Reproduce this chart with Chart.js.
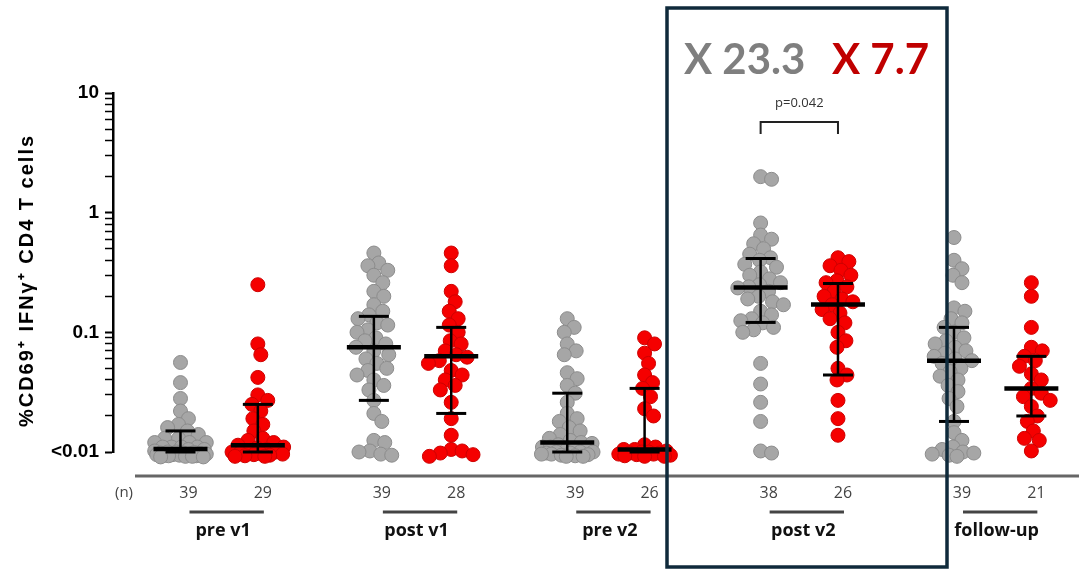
<!DOCTYPE html>
<html>
<head>
<meta charset="utf-8">
<script src="https://cdn.jsdelivr.net/npm/chart.js@4.4.1/dist/chart.umd.min.js"></script>
<style>
  html, body { margin: 0; padding: 0; background: #fff; }
  #chart { display: block; }
</style>
</head>
<body>
<canvas id="chart" width="1079" height="571"></canvas>
<script>
// groups along the x axis
const groups = ['pre v1', 'post v1', 'pre v2', 'post v2', 'follow-up'];

// % CD69+ IFNy+ CD4 T cells, one array per group
const greyValues = [
  [0.056, 0.038, 0.028, 0.022, 0.019, 0.017, 0.016, 0.015, 0.014, 0.013, 0.013, 0.012, 0.012, 0.012, 0.011, 0.011, 0.011, 0.011, 0.0105, 0.0105,
   0.0102, 0.01, 0.01, 0.0099, 0.0098, 0.0098, 0.0097, 0.0096, 0.0096, 0.0095, 0.0095, 0.0094, 0.0094, 0.0093, 0.0093, 0.0092, 0.0092, 0.0091, 0.0091],
  [0.46, 0.38, 0.36, 0.33, 0.3, 0.26, 0.22, 0.2, 0.17, 0.15, 0.14, 0.13, 0.12, 0.115, 0.105, 0.1, 0.09, 0.085, 0.08, 0.075,
   0.07, 0.065, 0.06, 0.055, 0.05, 0.048, 0.044, 0.04, 0.036, 0.033, 0.027, 0.021, 0.018, 0.0125, 0.012, 0.0102, 0.01, 0.0096, 0.0094],
  [0.13, 0.11, 0.1, 0.08, 0.07, 0.065, 0.046, 0.041, 0.036, 0.031, 0.026, 0.021, 0.019, 0.018, 0.016, 0.015, 0.014, 0.013, 0.0125, 0.012,
   0.0118, 0.0115, 0.011, 0.011, 0.0105, 0.0105, 0.0102, 0.01, 0.01, 0.01, 0.0098, 0.0098, 0.0096, 0.0096, 0.0095, 0.0094, 0.0093, 0.0092, 0.0092],
  [2.0, 1.9, 0.82, 0.65, 0.6, 0.55, 0.5, 0.45, 0.42, 0.4, 0.37, 0.35, 0.32, 0.3, 0.28, 0.26, 0.25, 0.24, 0.235,
   0.22, 0.2, 0.19, 0.18, 0.17, 0.15, 0.14, 0.13, 0.125, 0.12, 0.11, 0.105, 0.1, 0.055, 0.037, 0.026, 0.018, 0.0102, 0.0098],
  [0.62, 0.4, 0.34, 0.3, 0.26, 0.16, 0.15, 0.13, 0.12, 0.11, 0.1, 0.09, 0.085, 0.08, 0.075, 0.07, 0.067, 0.063, 0.06, 0.058,
   0.055, 0.05, 0.047, 0.043, 0.04, 0.036, 0.032, 0.028, 0.024, 0.018, 0.0145, 0.0125, 0.011, 0.0105, 0.01, 0.0098, 0.0096, 0.0094, 0.0092]
];
const redValues = [
  [0.25, 0.08, 0.065, 0.042, 0.03, 0.027, 0.025, 0.022, 0.019, 0.017, 0.015, 0.013, 0.0125, 0.012, 0.0114,
   0.011, 0.0108, 0.0105, 0.0102, 0.01, 0.01, 0.0098, 0.0097, 0.0096, 0.0095, 0.0094, 0.0093, 0.0092, 0.0092],
  [0.46, 0.36, 0.22, 0.18, 0.15, 0.13, 0.115, 0.1, 0.085, 0.08, 0.07, 0.065, 0.062, 0.058, 0.055, 0.048, 0.044, 0.04,
   0.036, 0.033, 0.026, 0.019, 0.0138, 0.0105, 0.0102, 0.0098, 0.0095, 0.0092],
  [0.09, 0.08, 0.067, 0.055, 0.044, 0.038, 0.034, 0.029, 0.023, 0.02, 0.0115, 0.011, 0.0105,
   0.0105, 0.0102, 0.01, 0.01, 0.0098, 0.0098, 0.0096, 0.0096, 0.0095, 0.0094, 0.0093, 0.0092, 0.0092],
  [0.42, 0.39, 0.36, 0.33, 0.3, 0.27, 0.26, 0.24, 0.22, 0.2, 0.19, 0.18, 0.17,
   0.155, 0.145, 0.13, 0.12, 0.1, 0.085, 0.075, 0.05, 0.044, 0.04, 0.027, 0.019, 0.0138],
  [0.26, 0.2, 0.11, 0.075, 0.07, 0.063, 0.058, 0.052, 0.045, 0.04, 0.034,
   0.031, 0.029, 0.027, 0.024, 0.02, 0.018, 0.015, 0.013, 0.0125, 0.0102]
];

// median and interquartile range drawn over each column
const greyMedian = [0.0106, 0.075, 0.012, 0.237, 0.058];
const greyQ1     = [0.01, 0.027, 0.01, 0.121, 0.018];
const greyQ3     = [0.015, 0.136, 0.031, 0.414, 0.11];
const redMedian  = [0.0114, 0.063, 0.0105, 0.171, 0.034];
const redQ1      = [0.01, 0.021, 0.01, 0.044, 0.02];
const redQ3      = [0.025, 0.11, 0.034, 0.256, 0.063];

// y axis ticks and annotations
const majorTicks = [0.01, 0.1, 1, 10];
const yTitle = '%CD69\u207A IFN\u03B3\u207A CD4 T cells';
const foldChange = ['X 23.3', 'X 7.7'];
const pValue = 'p=0.042';

const GREY = 'rgb(166,166,166)', RED = 'rgb(245,0,0)';
const SHIFT = 0.2;          // half distance between the two columns of a group
const R = 7, GAP = 11, MAXW = 26;

// simple beeswarm: push points sideways until they stop piling up
function swarm(values, centre, xs, ys) {
  const unit = xs.getPixelForValue(1) - xs.getPixelForValue(0);
  const placed = [];
  return values.slice().sort((a, b) => b - a).map(v => {
    const py = ys.getPixelForValue(v);
    let best = 0, bestD = -1;
    for (let k = 0; k <= 2 * MAXW; k++) {
      const off = (k % 2 ? 1 : -1) * Math.ceil(k / 2);
      let d = Infinity;
      placed.forEach(p => { d = Math.min(d, Math.hypot(p.x - off, p.y - py)); });
      if (d >= GAP) { best = off; bestD = d; break; }
      if (d > bestD) { bestD = d; best = off; }
    }
    placed.push({ x: best, y: py });
    return { x: centre + best / unit, y: v };
  });
}

function line(ctx, x1, y1, x2, y2) {
  ctx.beginPath(); ctx.moveTo(x1, y1); ctx.lineTo(x2, y2); ctx.stroke();
}

const medianBars = {
  id: 'medianBars',
  afterDatasetsDraw(chart) {
    const { ctx, scales: { x, y } } = chart;
    ctx.save();
    ctx.strokeStyle = '#000';
    [[greyMedian, greyQ1, greyQ3, -SHIFT], [redMedian, redQ1, redQ3, SHIFT]].forEach(([med, q1, q3, shift]) => {
      med.forEach((m, i) => {
        const cx = x.getPixelForValue(i + shift);
        const ym = y.getPixelForValue(m), y1 = y.getPixelForValue(q1[i]), y3 = y.getPixelForValue(q3[i]);
        ctx.lineWidth = 2.5; line(ctx, cx, y3, cx, y1);
        ctx.lineWidth = 3; line(ctx, cx - 15, y3, cx + 15, y3); line(ctx, cx - 15, y1, cx + 15, y1);
        ctx.lineWidth = 4.5; line(ctx, cx - 27, ym, cx + 27, ym);
      });
    });
    ctx.restore();
  }
};

const annotations = {
  id: 'annotations',
  afterDraw(chart) {
    const { ctx, chartArea, scales: { x } } = chart;
    ctx.save();
    // y axis title, spaced out like the original
    ctx.save();
    ctx.translate(27, (chartArea.top + chartArea.bottom) / 2 + 8);
    ctx.rotate(-Math.PI / 2);
    ctx.font = 'bold 20px "Liberation Sans", Arial';
    ctx.letterSpacing = '2px';
    ctx.fillStyle = '#000'; ctx.textAlign = 'center'; ctx.textBaseline = 'middle';
    ctx.fillText(yTitle, 0, 0);
    ctx.restore();
    // base line
    ctx.strokeStyle = '#666'; ctx.lineWidth = 3;
    line(ctx, 135, 476, 1079, 476);
    // (n) row
    ctx.fillStyle = '#444'; ctx.font = '15px "Open Sans"'; ctx.textBaseline = 'middle';
    ctx.textAlign = 'center';
    ctx.fillText('(n)', 124, 493);
    groups.forEach((g, i) => {
      const gx = x.getPixelForValue(i - SHIFT), rx = x.getPixelForValue(i + SHIFT);
      ctx.fillStyle = '#444'; ctx.font = '16px "Open Sans"';
      ctx.fillText(String(greyValues[i].length), gx + 8, 493);
      ctx.fillText(String(redValues[i].length), rx + 5, 493);
      ctx.strokeStyle = '#444'; ctx.lineWidth = 3;
      line(ctx, gx + 9, 512, rx + 6, 512);
      ctx.fillStyle = '#111'; ctx.font = 'bold 18px "Open Sans"';
      ctx.fillText(g, (gx + rx) / 2 + 4, 531);
    });
    // highlight box
    ctx.strokeStyle = '#0f2a3b'; ctx.lineWidth = 3.5;
    ctx.strokeRect(667, 8, 280, 559);
    // fold change
    ctx.textAlign = 'left'; ctx.textBaseline = 'alphabetic';
    ctx.font = 'bold 42px Lato';
    ctx.fillStyle = '#7f7f7f'; ctx.fillText(foldChange[0], 684, 74);
    ctx.fillStyle = '#c00000'; ctx.fillText(foldChange[1], 832, 74);
    // p value bracket
    const b1 = x.getPixelForValue(3 - SHIFT), b2 = x.getPixelForValue(3 + SHIFT);
    ctx.strokeStyle = '#222'; ctx.lineWidth = 2;
    ctx.beginPath(); ctx.moveTo(b1, 134); ctx.lineTo(b1, 122); ctx.lineTo(b2, 122); ctx.lineTo(b2, 134); ctx.stroke();
    ctx.fillStyle = '#333'; ctx.font = '13px "Open Sans"'; ctx.textAlign = 'center'; ctx.textBaseline = 'middle';
    ctx.fillText(pValue, (b1 + b2) / 2, 103);
    ctx.restore();
  }
};

const chart = new Chart(document.getElementById('chart'), {
  type: 'scatter',
  data: {
    datasets: [
      { data: [], backgroundColor: GREY, borderColor: 'rgb(140,140,140)', borderWidth: 1, pointRadius: R, clip: false },
      { data: [], backgroundColor: RED, borderColor: 'rgb(205,0,0)', borderWidth: 1, pointRadius: R, clip: false }
    ]
  },
  options: {
    responsive: false,
    animation: false,
    layout: { padding: { top: 93, bottom: 119, left: 0, right: 0 } },
    plugins: { legend: { display: false }, tooltip: { enabled: false } },
    scales: {
      x: { type: 'linear', min: -0.549, max: 4.405, display: false },
      y: {
        type: 'logarithmic',
        min: 0.01,
        max: 10,
        afterFit: scale => { scale.width = 113; },
        afterBuildTicks: scale => {
          const t = [];
          for (let d = 0.01; d < 10; d *= 10) for (let m = 1; m < 10; m++) t.push({ value: +(d * m).toPrecision(3) });
          t.push({ value: 10 });
          scale.ticks = t;
        },
        border: { display: true, color: '#000', width: 2.5 },
        grid: { drawOnChartArea: false, color: '#000', tickLength: 8,
                tickWidth: ctx => majorTicks.includes(ctx.tick && ctx.tick.value) ? 2 : 1.5 },
        ticks: {
          autoSkip: false,
          color: '#000',
          font: { family: '"Liberation Sans", Arial', size: 19, weight: 'bold' },
          padding: 6,
          callback: v => majorTicks.includes(v) ? (v === 0.01 ? '<0.01' : String(v)) : ''
        },
        title: { display: false }
      }
    }
  },
  plugins: [medianBars, annotations]
});

// lay the dots out as a swarm once the scales are known
chart.data.datasets[0].data = greyValues.flatMap((vals, i) => swarm(vals, i - SHIFT, chart.scales.x, chart.scales.y));
chart.data.datasets[1].data = redValues.flatMap((vals, i) => swarm(vals, i + SHIFT, chart.scales.x, chart.scales.y));
chart.update('none');
</script>
</body>
</html>
